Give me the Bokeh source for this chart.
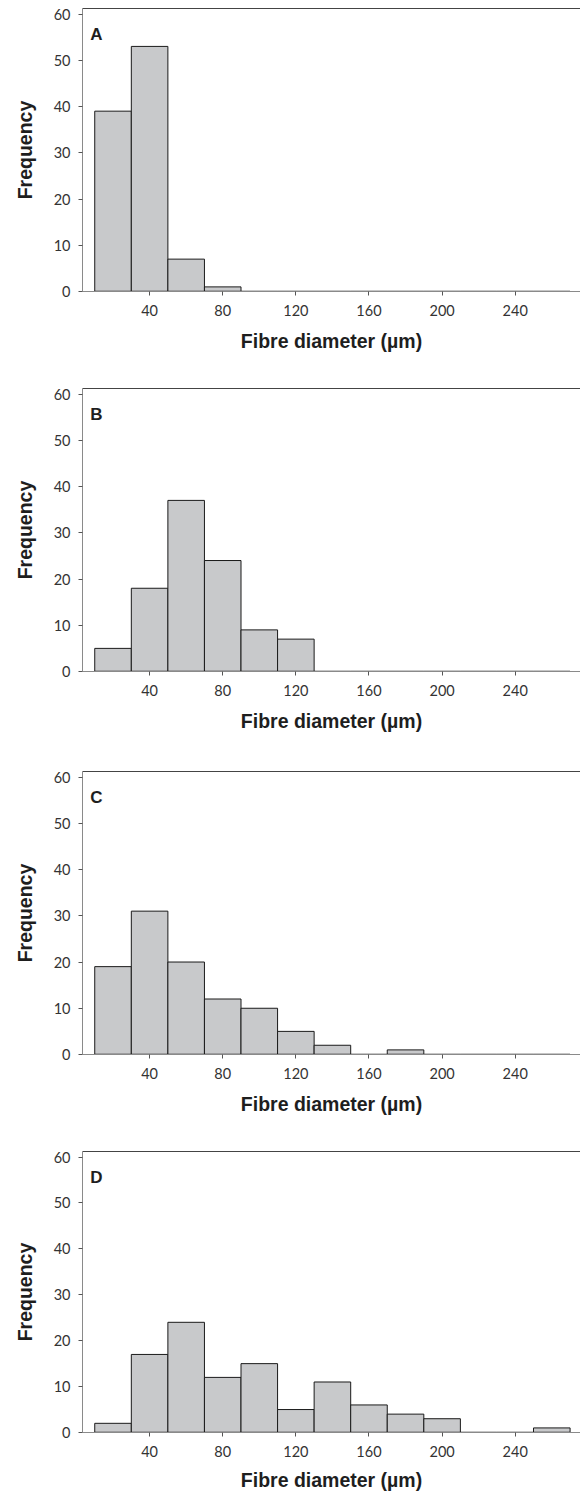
from bokeh.plotting import figure
from bokeh.layouts import column
from bokeh.models import Range1d, LinearAxis, FixedTicker, Label, ColumnDataSource
from bokeh.embed import file_html
from bokeh.resources import INLINE

# ---- data ----
bin_left = [10, 30, 50, 70, 90, 110, 130, 150, 170, 190, 210, 230, 250]
bin_right = [30, 50, 70, 90, 110, 130, 150, 170, 190, 210, 230, 250, 270]
freq_A = [39, 53, 7, 1, 0, 0, 0, 0, 0, 0, 0, 0, 0]
freq_B = [5, 18, 37, 24, 9, 7, 0, 0, 0, 0, 0, 0, 0]
freq_C = [19, 31, 20, 12, 10, 5, 2, 0, 1, 0, 0, 0, 0]
freq_D = [2, 17, 24, 12, 15, 5, 11, 6, 4, 3, 0, 0, 1]
panel_labels = ["A", "B", "C", "D"]
x_ticks = [40, 80, 120, 160, 200, 240]
y_ticks = [0, 10, 20, 30, 40, 50, 60]
x_title = "Fibre diameter (µm)"
y_title = "Frequency"

series = [freq_A, freq_B, freq_C, freq_D]
heights = [387, 383, 380, 343]
tops = [8, 1, 1, 1]
bottoms = [96, 99, 96, 59]
xlabel_standoff = [11, 11, 11, 9]

TICK_FONT = "Lato"
BOLD_FONT = "Liberation Sans"

figs = []
for i, vals in enumerate(series):
    p = figure(width=580, height=heights[i],
               x_range=Range1d(3.3, 275.7), y_range=Range1d(0, 61.2),
               output_backend="svg", toolbar_location=None,
               min_border_left=82, min_border_right=0,
               min_border_top=tops[i], min_border_bottom=bottoms[i])
    p.outline_line_color = None
    p.xgrid.visible = False
    p.ygrid.visible = False
    p.background_fill_color = "white"
    p.border_fill_color = "white"

    src = ColumnDataSource(dict(left=bin_left, right=bin_right,
                                top=vals, bottom=[0] * len(vals)))
    p.quad(left="left", right="right", top="top", bottom="bottom", source=src,
           fill_color="#c8c9cb", line_color="#1a1a1a", line_width=1)
    # bottom edges of every bin (also visible for empty bins)
    p.segment(x0="left", x1="right", y0="bottom", y1="bottom", source=src,
              line_color="#1a1a1a", line_width=1.3)

    # x axis
    xa = p.xaxis[0]
    xa.ticker = FixedTicker(ticks=x_ticks)
    xa.axis_line_color = "#8a8a8a"
    xa.major_tick_line_color = "#555555"
    xa.major_tick_in = 0
    xa.major_tick_out = 4
    xa.minor_tick_line_color = None
    xa.major_label_standoff = 9
    xa.major_label_text_font = TICK_FONT
    xa.major_label_text_font_size = "14.5px"
    xa.major_label_text_color = "#333333"
    xa.axis_label = x_title
    xa.axis_label_text_font = BOLD_FONT
    xa.axis_label_text_font_style = "bold"
    xa.axis_label_text_font_size = "19.5px"
    xa.axis_label_text_color = "#1e1e1e"
    xa.axis_label_standoff = xlabel_standoff[i]

    # y axis
    ya = p.yaxis[0]
    ya.ticker = FixedTicker(ticks=y_ticks)
    ya.axis_line_color = "#8a8a8a"
    ya.major_tick_line_color = "#555555"
    ya.major_tick_in = 0
    ya.major_tick_out = 4
    ya.minor_tick_line_color = None
    ya.major_label_standoff = 8
    ya.major_label_text_font = TICK_FONT
    ya.major_label_text_font_size = "14.5px"
    ya.major_label_text_color = "#333333"
    ya.axis_label = y_title
    ya.axis_label_text_font = BOLD_FONT
    ya.axis_label_text_font_style = "bold"
    ya.axis_label_text_font_size = "19.5px"
    ya.axis_label_text_color = "#1e1e1e"
    ya.axis_label_standoff = 15

    # top border
    top = LinearAxis(ticker=FixedTicker(ticks=[]), axis_line_color="#444444",
                     major_tick_line_color=None, minor_tick_line_color=None,
                     major_label_text_font_size="0px")
    p.add_layout(top, "above")

    p.add_layout(Label(x=7.5, y=55.6, text=panel_labels[i],
                       text_font=BOLD_FONT, text_font_style="bold",
                       text_font_size="17px", text_color="#1e1e1e",
                       text_baseline="alphabetic", text_align="left"))
    figs.append(p)

layout = column(*figs, spacing=0)
open("out.html", "w").write(file_html(layout, INLINE))
